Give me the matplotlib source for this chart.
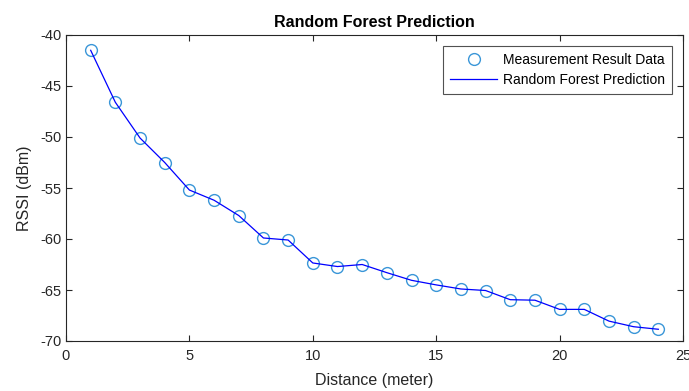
import matplotlib
matplotlib.use("Agg")
import matplotlib.pyplot as plt

# Distance (meter) and RSSI (dBm)
distance = [1, 2, 3, 4, 5, 6, 7, 8, 9, 10, 11, 12,
            13, 14, 15, 16, 17, 18, 19, 20, 21, 22, 23, 24]
measured = [-41.5, -46.6, -50.1, -52.5, -55.2, -56.2, -57.7, -59.9, -60.1, -62.35, -62.7, -62.5,
            -63.3, -64.05, -64.5, -64.9, -65.05, -65.95, -66.0, -66.9, -66.9, -68.05, -68.6, -68.85]
predicted = [-41.5, -46.6, -50.1, -52.5, -55.2, -56.2, -57.7, -59.9, -60.1, -62.35, -62.7, -62.5,
             -63.3, -64.05, -64.5, -64.9, -65.05, -65.95, -66.0, -66.9, -66.9, -68.05, -68.6, -68.85]
x_ticks = [0, 5, 10, 15, 20, 25]
y_ticks = [-70, -65, -60, -55, -50, -45, -40]

plt.rcParams["font.family"] = ["Liberation Sans", "DejaVu Sans"]
plt.rcParams["axes.unicode_minus"] = False

fig = plt.figure(figsize=(6.89, 3.91), dpi=100)
ax = fig.add_axes([66 / 689, 1 - 341 / 391, (683 - 66) / 689, (341 - 35) / 391])

ax.plot(distance, measured, "o", markersize=8.5, markerfacecolor="none",
        markeredgecolor="#3a96d8", markeredgewidth=1.0,
        label="Measurement Result Data")
ax.plot(distance, predicted, "-", color="#0000ff", linewidth=0.9,
        label="Random Forest Prediction")

ax.set_xlim(0, 25)
ax.set_ylim(-70, -40)
ax.set_xticks(x_ticks)
ax.set_yticks(y_ticks)

ax.set_xlabel("Distance (meter)", fontsize=11.5, color="#262626", labelpad=7)
ax.set_ylabel("RSSI (dBm)", fontsize=11.5, color="#262626", labelpad=6)
ax.set_title("Random Forest Prediction", fontsize=11.5, fontweight="bold", pad=6)

ax.tick_params(direction="in", top=True, right=True, length=4,
               labelsize=10.5, colors="#262626", width=0.8)
ax.tick_params(axis="x", pad=6)
for s in ax.spines.values():
    s.set_color("#262626")
    s.set_linewidth(0.8)

leg = ax.legend(loc="upper right", fontsize=10, frameon=True, fancybox=False,
                edgecolor="#262626", borderaxespad=0.8, handlelength=3.4,
                handletextpad=0.4, borderpad=0.5, labelspacing=0.45)
leg.get_frame().set_linewidth(0.8)

fig.savefig("out.png", dpi=100)
